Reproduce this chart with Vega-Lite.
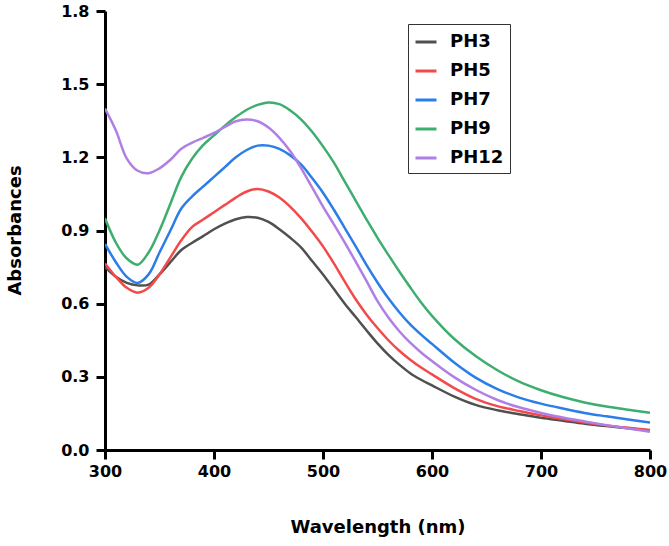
{
  "$schema": "https://vega.github.io/schema/vega-lite/v6.json",
  "width": 545,
  "height": 439,
  "autosize": {"type": "none"},
  "padding": {"left": 105, "top": 11, "right": 19, "bottom": 96},
  "background": "white",
  "config": {
    "view": {"stroke": null},
    "font": "DejaVu Sans"
  },
  "datasets": {
    "spectra": [
      {"s":"PH3","w":300,"a":0.75},{"s":"PH3","w":310,"a":0.71},{"s":"PH3","w":320,"a":0.685},{"s":"PH3","w":330,"a":0.675},{"s":"PH3","w":340,"a":0.678},{"s":"PH3","w":350,"a":0.72},{"s":"PH3","w":360,"a":0.77},{"s":"PH3","w":370,"a":0.82},{"s":"PH3","w":380,"a":0.85},{"s":"PH3","w":390,"a":0.877},{"s":"PH3","w":400,"a":0.905},{"s":"PH3","w":410,"a":0.928},{"s":"PH3","w":420,"a":0.946},{"s":"PH3","w":430,"a":0.955},{"s":"PH3","w":440,"a":0.952},{"s":"PH3","w":450,"a":0.935},{"s":"PH3","w":460,"a":0.905},{"s":"PH3","w":470,"a":0.87},{"s":"PH3","w":480,"a":0.83},{"s":"PH3","w":490,"a":0.775},{"s":"PH3","w":500,"a":0.72},{"s":"PH3","w":510,"a":0.66},{"s":"PH3","w":520,"a":0.6},{"s":"PH3","w":530,"a":0.545},{"s":"PH3","w":540,"a":0.49},{"s":"PH3","w":550,"a":0.437},{"s":"PH3","w":560,"a":0.39},{"s":"PH3","w":570,"a":0.35},{"s":"PH3","w":580,"a":0.315},{"s":"PH3","w":590,"a":0.288},{"s":"PH3","w":600,"a":0.265},{"s":"PH3","w":620,"a":0.22},{"s":"PH3","w":640,"a":0.185},{"s":"PH3","w":660,"a":0.163},{"s":"PH3","w":680,"a":0.147},{"s":"PH3","w":700,"a":0.132},{"s":"PH3","w":720,"a":0.12},{"s":"PH3","w":740,"a":0.108},{"s":"PH3","w":760,"a":0.098},{"s":"PH3","w":780,"a":0.089},{"s":"PH3","w":800,"a":0.08},

      {"s":"PH5","w":300,"a":0.765},{"s":"PH5","w":310,"a":0.71},{"s":"PH5","w":320,"a":0.665},{"s":"PH5","w":330,"a":0.645},{"s":"PH5","w":340,"a":0.665},{"s":"PH5","w":350,"a":0.72},{"s":"PH5","w":360,"a":0.79},{"s":"PH5","w":370,"a":0.86},{"s":"PH5","w":380,"a":0.915},{"s":"PH5","w":390,"a":0.945},{"s":"PH5","w":400,"a":0.975},{"s":"PH5","w":410,"a":1.005},{"s":"PH5","w":420,"a":1.035},{"s":"PH5","w":430,"a":1.06},{"s":"PH5","w":440,"a":1.07},{"s":"PH5","w":450,"a":1.06},{"s":"PH5","w":460,"a":1.035},{"s":"PH5","w":470,"a":0.997},{"s":"PH5","w":480,"a":0.95},{"s":"PH5","w":490,"a":0.895},{"s":"PH5","w":500,"a":0.835},{"s":"PH5","w":510,"a":0.765},{"s":"PH5","w":520,"a":0.69},{"s":"PH5","w":530,"a":0.618},{"s":"PH5","w":540,"a":0.555},{"s":"PH5","w":550,"a":0.5},{"s":"PH5","w":560,"a":0.45},{"s":"PH5","w":570,"a":0.407},{"s":"PH5","w":580,"a":0.37},{"s":"PH5","w":590,"a":0.338},{"s":"PH5","w":600,"a":0.31},{"s":"PH5","w":620,"a":0.255},{"s":"PH5","w":640,"a":0.21},{"s":"PH5","w":660,"a":0.18},{"s":"PH5","w":680,"a":0.16},{"s":"PH5","w":700,"a":0.142},{"s":"PH5","w":720,"a":0.127},{"s":"PH5","w":740,"a":0.113},{"s":"PH5","w":760,"a":0.101},{"s":"PH5","w":780,"a":0.091},{"s":"PH5","w":800,"a":0.082},

      {"s":"PH7","w":300,"a":0.845},{"s":"PH7","w":310,"a":0.77},{"s":"PH7","w":320,"a":0.71},{"s":"PH7","w":330,"a":0.685},{"s":"PH7","w":340,"a":0.72},{"s":"PH7","w":350,"a":0.81},{"s":"PH7","w":360,"a":0.9},{"s":"PH7","w":370,"a":0.99},{"s":"PH7","w":380,"a":1.04},{"s":"PH7","w":390,"a":1.08},{"s":"PH7","w":400,"a":1.12},{"s":"PH7","w":410,"a":1.16},{"s":"PH7","w":420,"a":1.2},{"s":"PH7","w":430,"a":1.23},{"s":"PH7","w":440,"a":1.248},{"s":"PH7","w":450,"a":1.248},{"s":"PH7","w":460,"a":1.235},{"s":"PH7","w":470,"a":1.208},{"s":"PH7","w":480,"a":1.17},{"s":"PH7","w":490,"a":1.115},{"s":"PH7","w":500,"a":1.055},{"s":"PH7","w":510,"a":0.985},{"s":"PH7","w":520,"a":0.91},{"s":"PH7","w":530,"a":0.835},{"s":"PH7","w":540,"a":0.758},{"s":"PH7","w":550,"a":0.687},{"s":"PH7","w":560,"a":0.622},{"s":"PH7","w":570,"a":0.565},{"s":"PH7","w":580,"a":0.515},{"s":"PH7","w":590,"a":0.473},{"s":"PH7","w":600,"a":0.435},{"s":"PH7","w":620,"a":0.36},{"s":"PH7","w":640,"a":0.297},{"s":"PH7","w":660,"a":0.25},{"s":"PH7","w":680,"a":0.215},{"s":"PH7","w":700,"a":0.19},{"s":"PH7","w":720,"a":0.17},{"s":"PH7","w":740,"a":0.152},{"s":"PH7","w":760,"a":0.138},{"s":"PH7","w":780,"a":0.125},{"s":"PH7","w":800,"a":0.113},

      {"s":"PH9","w":300,"a":0.95},{"s":"PH9","w":310,"a":0.85},{"s":"PH9","w":320,"a":0.785},{"s":"PH9","w":330,"a":0.76},{"s":"PH9","w":340,"a":0.81},{"s":"PH9","w":350,"a":0.9},{"s":"PH9","w":360,"a":1.01},{"s":"PH9","w":370,"a":1.12},{"s":"PH9","w":380,"a":1.195},{"s":"PH9","w":390,"a":1.25},{"s":"PH9","w":400,"a":1.29},{"s":"PH9","w":410,"a":1.33},{"s":"PH9","w":420,"a":1.365},{"s":"PH9","w":430,"a":1.395},{"s":"PH9","w":440,"a":1.415},{"s":"PH9","w":450,"a":1.425},{"s":"PH9","w":460,"a":1.418},{"s":"PH9","w":470,"a":1.392},{"s":"PH9","w":480,"a":1.355},{"s":"PH9","w":490,"a":1.305},{"s":"PH9","w":500,"a":1.245},{"s":"PH9","w":510,"a":1.178},{"s":"PH9","w":520,"a":1.1},{"s":"PH9","w":530,"a":1.022},{"s":"PH9","w":540,"a":0.945},{"s":"PH9","w":550,"a":0.87},{"s":"PH9","w":560,"a":0.8},{"s":"PH9","w":570,"a":0.732},{"s":"PH9","w":580,"a":0.667},{"s":"PH9","w":590,"a":0.605},{"s":"PH9","w":600,"a":0.55},{"s":"PH9","w":620,"a":0.457},{"s":"PH9","w":640,"a":0.385},{"s":"PH9","w":660,"a":0.327},{"s":"PH9","w":680,"a":0.28},{"s":"PH9","w":700,"a":0.245},{"s":"PH9","w":720,"a":0.217},{"s":"PH9","w":740,"a":0.195},{"s":"PH9","w":760,"a":0.178},{"s":"PH9","w":780,"a":0.165},{"s":"PH9","w":800,"a":0.153},

      {"s":"PH12","w":300,"a":1.4},{"s":"PH12","w":310,"a":1.31},{"s":"PH12","w":320,"a":1.195},{"s":"PH12","w":330,"a":1.145},{"s":"PH12","w":340,"a":1.135},{"s":"PH12","w":350,"a":1.155},{"s":"PH12","w":360,"a":1.19},{"s":"PH12","w":370,"a":1.235},{"s":"PH12","w":380,"a":1.26},{"s":"PH12","w":390,"a":1.28},{"s":"PH12","w":400,"a":1.3},{"s":"PH12","w":410,"a":1.325},{"s":"PH12","w":420,"a":1.348},{"s":"PH12","w":430,"a":1.355},{"s":"PH12","w":440,"a":1.348},{"s":"PH12","w":450,"a":1.322},{"s":"PH12","w":460,"a":1.28},{"s":"PH12","w":470,"a":1.225},{"s":"PH12","w":480,"a":1.155},{"s":"PH12","w":490,"a":1.077},{"s":"PH12","w":500,"a":0.998},{"s":"PH12","w":510,"a":0.925},{"s":"PH12","w":520,"a":0.85},{"s":"PH12","w":530,"a":0.772},{"s":"PH12","w":540,"a":0.692},{"s":"PH12","w":550,"a":0.61},{"s":"PH12","w":560,"a":0.543},{"s":"PH12","w":570,"a":0.487},{"s":"PH12","w":580,"a":0.44},{"s":"PH12","w":590,"a":0.4},{"s":"PH12","w":600,"a":0.365},{"s":"PH12","w":620,"a":0.3},{"s":"PH12","w":640,"a":0.247},{"s":"PH12","w":660,"a":0.205},{"s":"PH12","w":680,"a":0.175},{"s":"PH12","w":700,"a":0.152},{"s":"PH12","w":720,"a":0.133},{"s":"PH12","w":740,"a":0.117},{"s":"PH12","w":760,"a":0.102},{"s":"PH12","w":780,"a":0.088},{"s":"PH12","w":800,"a":0.075}
    ]
  },
  "data": {"name": "spectra"},
  "mark": {"type": "line", "strokeWidth": 2.5, "interpolate": "catmull-rom", "clip": true},
  "encoding": {
    "x": {
      "field": "w",
      "type": "quantitative",
      "scale": {"domain": [300, 800], "nice": false, "zero": false},
      "axis": {
        "title": "Wavelength (nm)",
        "values": [300, 400, 500, 600, 700, 800],
        "grid": false,
        "domainColor": "black",
        "domainWidth": 3,
        "tickColor": "black",
        "tickWidth": 3,
        "tickSize": 9,
        "labelPadding": 4,
        "labelFont": "DejaVu Sans",
        "labelFontWeight": "bold",
        "labelFontSize": 16,
        "labelColor": "black",
        "labelFlush": false,
        "titleFont": "DejaVu Sans",
        "titleFontWeight": "bold",
        "titleFontSize": 18,
        "titleColor": "black",
        "titleY": 77,
        "titleBaseline": "middle"
      }
    },
    "y": {
      "field": "a",
      "type": "quantitative",
      "scale": {"domain": [0, 1.8], "nice": false},
      "axis": {
        "title": "Absorbances",
        "values": [0, 0.3, 0.6, 0.9, 1.2, 1.5, 1.8],
        "format": ".1f",
        "grid": false,
        "domainColor": "black",
        "domainWidth": 3,
        "tickColor": "black",
        "tickWidth": 3,
        "tickSize": 9,
        "labelPadding": 7,
        "labelFont": "DejaVu Sans",
        "labelFontWeight": "bold",
        "labelFontSize": 16,
        "labelColor": "black",
        "labelFlush": false,
        "titleFont": "DejaVu Sans",
        "titleFontWeight": "bold",
        "titleFontSize": 18,
        "titleColor": "black",
        "titleX": -90,
        "titleY": 219,
        "titleAngle": 270,
        "titleBaseline": "middle",
        "titleAlign": "center"
      }
    },
    "color": {
      "field": "s",
      "type": "nominal",
      "scale": {
        "domain": ["PH3", "PH5", "PH7", "PH9", "PH12"],
        "range": ["#505050", "#f24a4a", "#2b7de9", "#3dae6e", "#b07fe6"]
      },
      "legend": {
        "title": null,
        "orient": "none",
        "legendX": 303,
        "legendY": 13,
        "strokeColor": "#333333",
        "padding": 6,
        "symbolType": "stroke",
        "symbolSize": 441,
        "symbolStrokeWidth": 3,
        "labelFont": "DejaVu Sans",
        "labelFontWeight": "bold",
        "labelFontSize": 18,
        "labelColor": "black",
        "labelOffset": 12,
        "rowPadding": 8,
        "fillColor": "white"
      }
    }
  }
}
